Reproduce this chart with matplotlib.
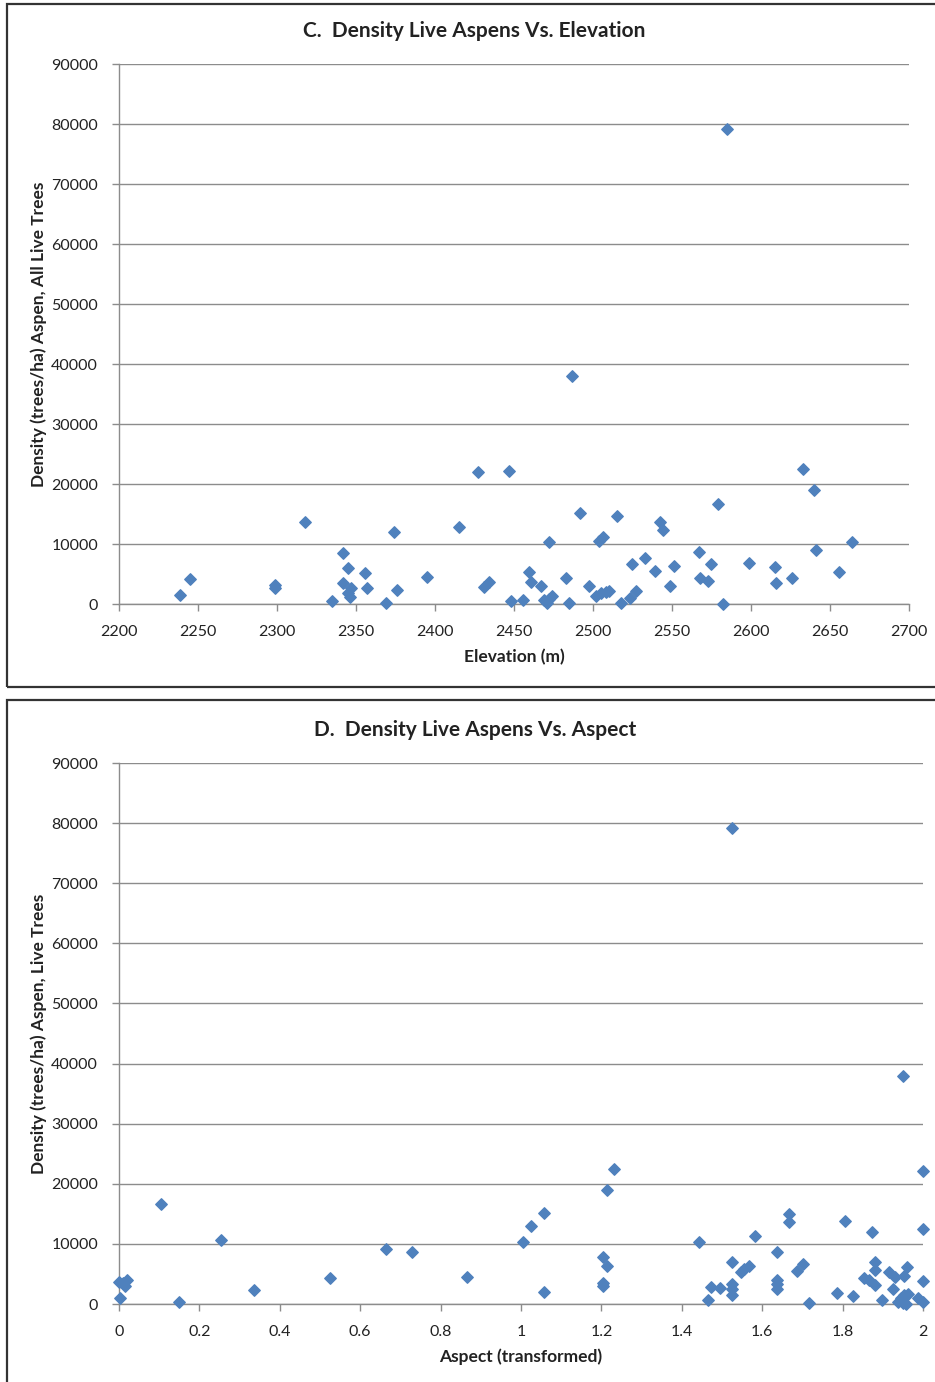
import matplotlib
matplotlib.use("Agg")
import matplotlib.pyplot as plt
from matplotlib.patches import Rectangle

plt.rcParams['font.family'] = ['Lato', 'DejaVu Sans']

# Panel C: density vs elevation
elev = [2238.6, 2245, 2299, 2299, 2318, 2335, 2342, 2345, 2342, 2347,
        2345, 2346, 2356, 2357, 2369, 2374, 2376, 2395, 2415, 2427,
        2431, 2434, 2447, 2448, 2456, 2459.5, 2461, 2467, 2472, 2469,
        2471, 2472.4, 2474.3, 2483, 2485, 2487, 2492, 2497.6, 2502, 2505,
        2508, 2510, 2504, 2506.5, 2515, 2517.5, 2523.6, 2527.4, 2525, 2533,
        2539.4, 2542.4, 2544, 2549, 2551, 2567, 2568, 2573, 2574.5, 2579,
        2582, 2585, 2598.5, 2615, 2616, 2626, 2633, 2640, 2641, 2656, 2664]
dens_elev = [1500, 4200, 3170, 2670, 13700, 500, 8550, 6050, 3550, 2600,
             1900, 1100, 5150, 2600, 250, 11950, 2280, 4550, 12900, 21950,
             2780, 3670, 22220, 500, 600, 5380, 3720, 3000, 10280, 670,
             110, 830, 1380, 4280, 220, 38000, 15110, 3060, 1330, 1780,
             2000, 2110, 10550, 11110, 14720, 220, 1000, 2170, 6670, 7720,
             5500, 13720, 12280, 3000, 6330, 8670, 4390, 3780, 6610, 16610,
             0, 79170, 6830, 6220, 3560, 4280, 22450, 18950, 9050, 5330, 10280]

# Panel D: density vs transformed aspect
aspect = [0.001, 0.011, 0.015, 0.021, 0.0025, 0.104, 0.149, 0.254, 0.335, 0.526,
          0.663, 0.729, 0.866, 1.006, 1.025, 1.057, 1.057, 1.231, 1.214, 1.205,
          1.215, 1.205, 1.205, 1.444, 1.466, 1.473, 1.495, 1.525, 1.525, 1.525,
          1.525, 1.547, 1.555, 1.568, 1.583, 1.638, 1.638, 1.638, 1.638, 1.666,
          1.666, 1.686, 1.701, 1.717, 1.787, 1.807, 1.827, 1.852, 1.866, 1.881,
          1.872, 1.881, 1.881, 1.897, 1.915, 1.930, 1.926, 1.953, 1.959, 1.938,
          1.945, 1.953, 1.962, 1.950, 1.958, 1.987, 2.0, 2.0, 2.0, 2.0,
          1.525, 1.950]
dens_aspect = [3600, 3450, 3000, 4000, 1050, 16700, 280, 10670, 2280, 4330,
               9170, 8720, 4450, 10330, 13000, 15220, 2050, 22450, 19000, 7780,
               6390, 3000, 3500, 10330, 720, 2830, 2720, 6950, 3280, 2450,
               1550, 5330, 5890, 6330, 11330, 8610, 3940, 3280, 2560, 14950,
               13610, 5560, 6720, 220, 1830, 13890, 1330, 4390, 4000, 3110,
               12050, 6950, 5670, 610, 5390, 4450, 2560, 4670, 6110, 300,
               1000, 1500, 1600, 100, 0, 950, 380, 3830, 12500, 22170,
               79170, 38000]

yticks = list(range(0, 90001, 10000))
BLUE = '#4F81BD'
GRID = '#8C8C8C'
TXT = '#222222'

fig = plt.figure(figsize=(9.35, 13.82), dpi=100)

# panel borders
for y0, h in [(1 - 687 / 1382, 683 / 1382), (-0.01, 1 - 700 / 1382 + 0.01)]:
    fig.add_artist(Rectangle((7 / 935, y0), 1.0, h, transform=fig.transFigure,
                             fill=False, edgecolor='#333333', linewidth=1.6))


def style(ax, xticks, xfmt):
    ax.set_ylim(0, 90000)
    ax.set_yticks(yticks)
    ax.set_xticks(xticks)
    ax.set_xticklabels([xfmt(v) for v in xticks])
    ax.yaxis.grid(True, color=GRID, linewidth=1.0)
    ax.set_axisbelow(True)
    for s in ['top', 'right']:
        ax.spines[s].set_visible(False)
    for s in ['left', 'bottom']:
        ax.spines[s].set_color(GRID)
        ax.spines[s].set_linewidth(1.0)
    ax.tick_params(axis='both', colors=GRID, labelcolor=TXT, labelsize=11.5,
                   length=5, width=1.0)
    ax.tick_params(axis='y', pad=10)
    ax.tick_params(axis='x', pad=10)


ax1 = fig.add_axes([119 / 935, 1 - 604 / 1382, 790 / 935, 540 / 1382])
ax1.scatter(elev, dens_elev, marker='D', s=34, color=BLUE, clip_on=False, zorder=3)
ax1.set_xlim(2200, 2700)
style(ax1, list(range(2200, 2701, 50)), lambda v: str(v))
fig.text(474 / 935, 1 - 31 / 1382, 'C.  Density Live Aspens Vs. Elevation', fontsize=15,
         fontweight='bold', color=TXT, ha='center', va='center')
ax1.set_xlabel('Elevation (m)', fontsize=12.5, fontweight='bold', color=TXT, labelpad=7)
ax1.set_ylabel('Density (trees/ha) Aspen, All Live Trees', fontsize=12.5,
               fontweight='bold', color=TXT, labelpad=3)

ax2 = fig.add_axes([119 / 935, 1 - 1304 / 1382, 804 / 935, 541 / 1382])
ax2.scatter(aspect, dens_aspect, marker='D', s=34, color=BLUE, clip_on=False, zorder=3)
ax2.set_xlim(0, 2)
style(ax2, [0, 0.2, 0.4, 0.6, 0.8, 1, 1.2, 1.4, 1.6, 1.8, 2],
      lambda v: ('%g' % v))
fig.text(475 / 935, 1 - 730 / 1382, 'D.  Density Live Aspens Vs. Aspect', fontsize=15,
         fontweight='bold', color=TXT, ha='center', va='center')
ax2.set_xlabel('Aspect (transformed)', fontsize=12.5, fontweight='bold', color=TXT, labelpad=7)
ax2.set_ylabel('Density (trees/ha) Aspen, Live Trees', fontsize=12.5,
               fontweight='bold', color=TXT, labelpad=3)

fig.savefig('out.png', dpi=100)
